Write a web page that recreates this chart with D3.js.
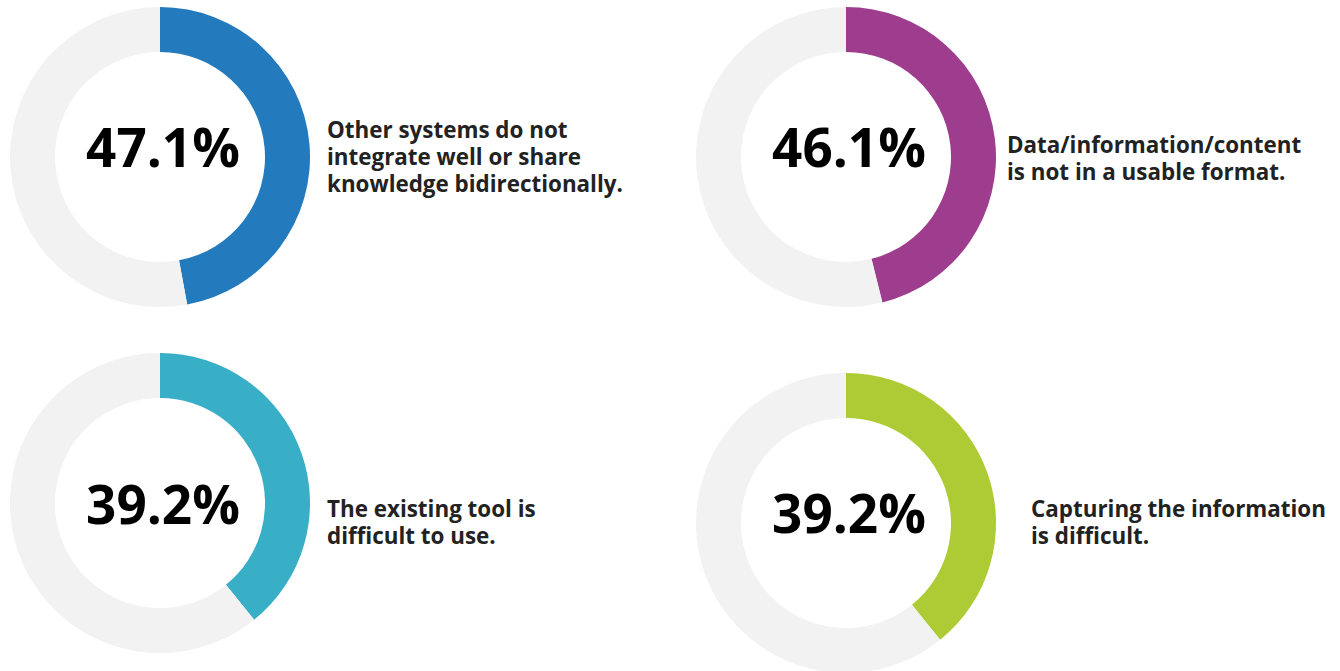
<!DOCTYPE html>
<html>
<head>
<meta charset="utf-8">
<script src="https://cdn.jsdelivr.net/npm/d3@7"></script>
<style>
  html, body { margin: 0; padding: 0; background: #ffffff; }
  svg { display: block; }
</style>
</head>
<body>
<svg id="chart" width="1340" height="671"></svg>
<script>
// ---- data ----
const values = [47.1, 46.1, 39.2, 39.2];
const valueLabels = ["47.1%", "46.1%", "39.2%", "39.2%"];
const descriptions = [
  ["Other systems do not", "integrate well or share", "knowledge bidirectionally."],
  ["Data/information/content", "is not in a usable format."],
  ["The existing tool is", "difficult to use."],
  ["Capturing the information", "is difficult."]
];
const colors = ["#237abd", "#9e3d8e", "#38aec7", "#adcb34"];

// ---- layout (positions / styles) ----
const layout = [
  { cx: 160, cy: 157, pctDy: -11, tx: 327, tyFirst: 138 },
  { cx: 846, cy: 157, pctDy: -11, tx: 1007, tyFirst: 153 },
  { cx: 160, cy: 503, pctDy: 0,  tx: 327, tyFirst: 517 },
  { cx: 846, cy: 523, pctDy: -11, tx: 1031, tyFirst: 517 }
];
const outerR = 150, innerR = 105, lineH = 27;
const trackColor = "#f2f2f2";

const svg = d3.select("#chart");
const pie = d3.pie().sort(null).value(d => d);
const arc = d3.arc().innerRadius(innerR).outerRadius(outerR);

values.forEach((v, i) => {
  const L = layout[i];
  const g = svg.append("g").attr("transform", `translate(${L.cx},${L.cy})`);
  const slices = pie([v, 100 - v]);
  g.selectAll("path")
    .data(slices)
    .join("path")
    .attr("d", arc)
    .attr("fill", (d, j) => j === 0 ? colors[i] : trackColor);

  g.append("text")
    .attr("x", 3)
    .attr("y", L.pctDy)
    .attr("text-anchor", "middle")
    .attr("dominant-baseline", "central")
    .attr("font-family", "'Open Sans', sans-serif")
    .attr("font-weight", 700)
    .attr("font-size", 53)
    .attr("fill", "#000000")
    .text(valueLabels[i]);

  const t = svg.append("text")
    .attr("font-family", "'Open Sans', sans-serif")
    .attr("font-weight", 700)
    .attr("font-size", 22.4)
    .attr("fill", "#222222");
  descriptions[i].forEach((line, k) => {
    t.append("tspan")
      .attr("x", L.tx)
      .attr("y", L.tyFirst + k * lineH)
      .text(line);
  });
});
</script>
</body>
</html>
